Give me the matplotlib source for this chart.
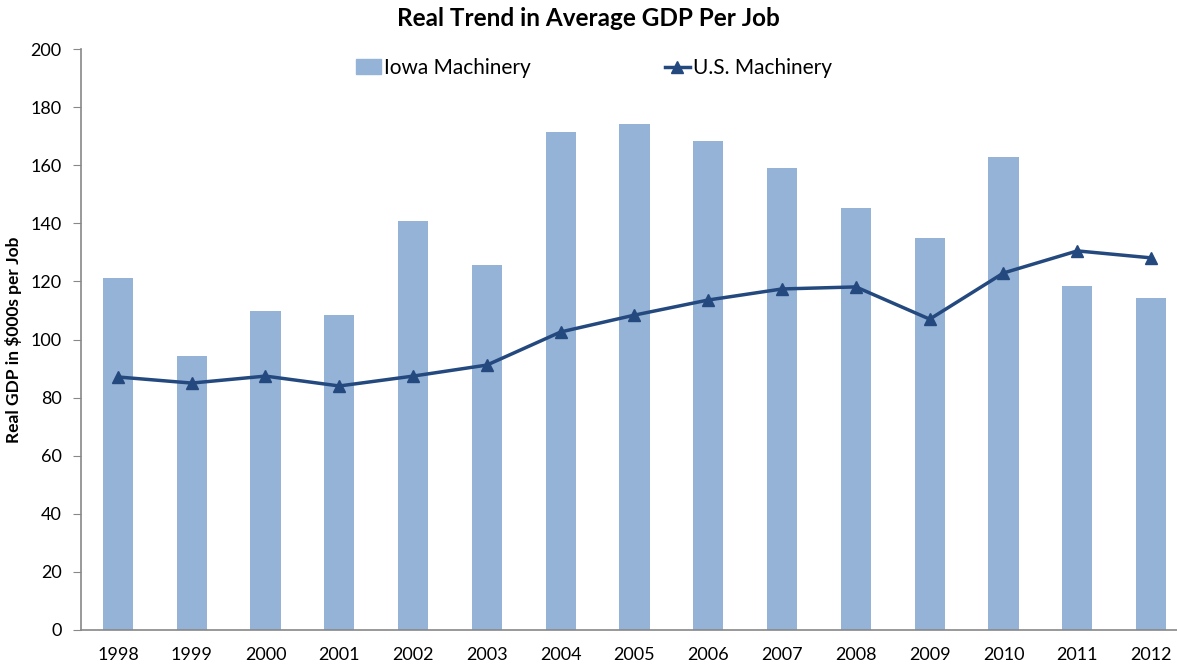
import matplotlib
matplotlib.use("Agg")
import matplotlib.pyplot as plt
from matplotlib.patches import Patch
from matplotlib.lines import Line2D
import numpy as np

years = ['1998', '1999', '2000', '2001', '2002', '2003', '2004', '2005',
         '2006', '2007', '2008', '2009', '2010', '2011', '2012']
iowa = [121.2, 94.3, 109.8, 108.4, 140.8, 125.6, 171.4, 174.2,
        168.3, 159.0, 145.3, 134.9, 162.8, 118.4, 114.3]
us = [87.1, 85.0, 87.4, 84.0, 87.4, 91.2, 102.6, 108.4,
      113.6, 117.4, 118.1, 107.0, 122.9, 130.5, 128.1]

plt.rcParams['font.family'] = ['Lato', 'DejaVu Sans']

bar_color = '#95B3D7'
line_color = '#24497E'
axis_color = '#888888'

fig = plt.figure(figsize=(11.77, 6.67), dpi=100)
ax = fig.add_axes([81 / 1177, 37 / 667, 1107 / 1177, 581 / 667])

x = np.arange(len(years))
ax.bar(x, iowa, width=0.41, color=bar_color, zorder=2)
ax.plot(x, us, color=line_color, linewidth=2.5, marker='^', markersize=8,
        zorder=3)

ax.set_xlim(-0.5, len(years) - 0.5)
ax.set_ylim(0, 200)
ax.set_yticks(range(0, 201, 20))
ax.set_xticks(x)
ax.set_xticklabels(years)

for side in ['top', 'right']:
    ax.spines[side].set_visible(False)
for side in ['left', 'bottom']:
    ax.spines[side].set_color(axis_color)
    ax.spines[side].set_linewidth(1.2)

ax.tick_params(axis='y', length=6, color=axis_color, labelsize=13, pad=8)
ax.tick_params(axis='x', length=0, labelsize=13, pad=12)

ax.set_ylabel('Real GDP in $000s per Job', fontsize=12.5, fontweight='bold',
              labelpad=6)
fig.text(0.5, 0.973, 'Real Trend in Average GDP Per Job', ha='center',
         va='center', fontsize=17.5, fontweight='bold')

handles = [Patch(color=bar_color, label='Iowa Machinery'),
           Line2D([0], [0], color=line_color, linewidth=2.5, marker='^',
                  markersize=8, label='U.S. Machinery')]
fig.legend(handles=handles, loc='center', bbox_to_anchor=(594 / 1177, 1 - 68 / 667),
           ncol=2, frameon=False, fontsize=15, columnspacing=6.4,
           handlelength=1.2, handletextpad=0.15)

fig.savefig('out.png', dpi=100)
